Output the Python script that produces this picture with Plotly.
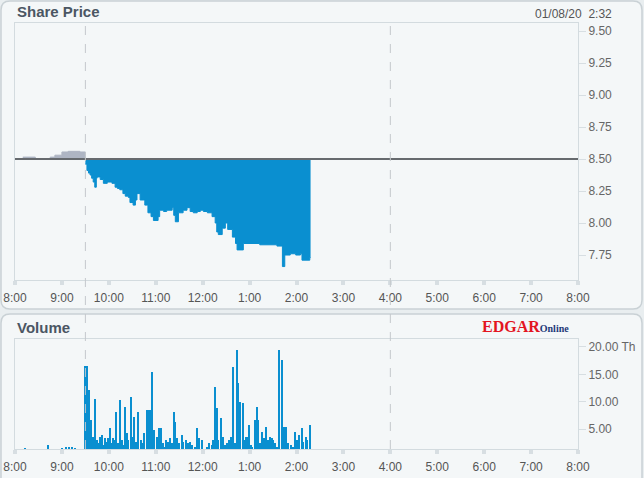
import pandas as pd
import plotly.graph_objects as go

W, H = 644, 478
DAY = "2020-01-08 "

# previous close (reference line)
prev_close = 8.50

# pre-market trades (grey, above previous close)
pre_times = ["08:10", "08:26", "08:45", "08:51", "09:00", "09:08", "09:23", "09:30"]
pre_prices = [8.515, 8.50, 8.515, 8.53, 8.555, 8.56, 8.555, 8.50]

# regular session
reg_times = ["09:30", "09:32", "09:34", "09:36", "09:38", "09:40", "09:42", "09:44", "09:45",
             "09:49", "09:53", "09:58", "10:04", "10:08", "10:11", "10:14", "10:18", "10:21",
             "10:25", "10:27", "10:31", "10:34", "10:36", "10:40", "10:46", "10:50", "10:54",
             "10:57", "11:03", "11:05", "11:10", "11:14", "11:21", "11:23", "11:25", "11:29",
             "11:35", "11:40", "11:44", "11:48", "11:53", "11:57", "12:01", "12:06", "12:12",
             "12:16", "12:18", "12:20", "12:25", "12:29", "12:32", "12:38", "12:42", "12:44",
             "12:52", "13:13", "13:35", "13:42", "13:45", "13:52", "13:59", "14:05", "14:07",
             "14:17", "14:18"]
reg_prices = [8.46, 8.41, 8.39, 8.375, 8.35, 8.32, 8.28, 8.35, 8.36,
              8.34, 8.31, 8.32, 8.31, 8.28, 8.27, 8.26, 8.23, 8.21,
              8.20, 8.16, 8.14, 8.18, 8.23, 8.18, 8.14, 8.08, 8.05,
              8.02, 8.05, 8.10, 8.09, 8.10, 8.12, 8.06, 8.01, 8.08,
              8.10, 8.12, 8.09, 8.08, 8.09, 8.10, 8.09, 8.08, 8.05,
              8.00, 7.93, 7.91, 7.96, 8.00, 7.95, 7.89, 7.84, 7.79,
              7.84, 7.83, 7.82, 7.66, 7.75, 7.76, 7.75, 7.76, 7.71,
              7.73, 7.73]

# volume (thousands)
vol_times = ["08:13", "08:42", "09:01", "09:05", "09:09", "09:13", "09:17",
             "09:30", "09:31", "09:32", "09:33", "09:35", "09:37", "09:38", "09:40", "09:42",
             "09:45", "09:46", "09:49", "09:51", "09:53", "09:55", "09:58", "09:59", "10:02",
             "10:04", "10:05", "10:08", "10:10", "10:12", "10:14", "10:17", "10:18", "10:21",
             "10:23", "10:25", "10:28", "10:31", "10:32", "10:35", "10:37", "10:41", "10:44",
             "10:45", "10:49", "10:50", "10:51", "10:52", "10:53", "10:56", "10:58", "11:02",
             "11:04", "11:05", "11:07", "11:09", "11:12", "11:14", "11:16", "11:18", "11:21",
             "11:23", "11:25", "11:27", "11:30", "11:34", "11:35", "11:39", "11:41", "11:44",
             "11:46", "11:50", "11:53", "11:55", "11:59", "12:06", "12:08", "12:12", "12:13",
             "12:16", "12:18", "12:20", "12:24", "12:26", "12:29", "12:31", "12:34", "12:36",
             "12:39", "12:41", "12:44", "12:45", "12:48", "12:52", "12:53", "12:56", "12:57",
             "12:59", "13:02", "13:04", "13:07", "13:10", "13:11", "13:13", "13:16", "13:19",
             "13:21", "13:24", "13:26", "13:29", "13:30", "13:33", "13:35", "13:38", "13:42",
             "13:43", "13:44", "13:45", "13:46", "13:47", "13:49", "13:53", "13:56", "13:58",
             "14:01", "14:03", "14:07", "14:08", "14:12", "14:14", "14:17"]
vol_values = [1.6, 2.1, 1.6, 1.7, 1.7, 1.7, 1.6,
              16.5, 16.5, 16.5, 8.1, 12.1, 6.7, 5.2, 3.5, 10.5,
              3.0, 2.4, 3.5, 3.9, 2.1, 3.4, 2.6, 3.4, 5.2,
              2.4, 3.4, 3.0, 8.1, 2.4, 10.3, 3.0, 2.1, 9.0,
              4.3, 3.0, 10.9, 3.5, 7.2, 2.6, 8.1, 3.0, 2.4,
              4.3, 8.5, 8.5, 8.5, 8.5, 8.5, 15.4, 4.8, 3.5,
              2.6, 5.2, 5.2, 2.4, 1.7, 3.0, 2.6, 3.4, 2.4,
              8.1, 6.3, 3.4, 2.4, 3.9, 2.6, 3.0, 2.4, 2.6,
              2.1, 1.7, 5.2, 3.4, 3.0, 1.7, 2.4, 2.1, 3.0,
              12.7, 8.8, 3.0, 7.0, 3.5, 2.1, 2.4, 3.0, 3.5,
              16.3, 2.4, 19.4, 13.4, 9.9, 9.8, 3.0, 3.5, 3.5,
              5.7, 2.1, 1.7, 6.7, 9.0, 6.7, 2.4, 4.5, 3.4,
              5.4, 3.0, 3.5, 3.4, 3.0, 2.4, 1.7, 19.4, 17.6,
              5.4, 5.4, 5.4, 5.4, 5.4, 2.4, 2.1, 1.7, 4.5,
              3.0, 3.9, 5.2, 2.6, 3.5, 3.0, 5.7]

hour_ticks = ["08:00", "09:00", "10:00", "11:00", "12:00", "13:00", "14:00",
              "15:00", "16:00", "17:00", "18:00", "19:00", "20:00"]
hour_labels = ["8:00", "9:00", "10:00", "11:00", "12:00", "1:00", "2:00",
               "3:00", "4:00", "5:00", "6:00", "7:00", "8:00"]
price_ticks = [7.75, 8.00, 8.25, 8.50, 8.75, 9.00, 9.25, 9.50]
vol_ticks = [5, 10, 15, 20]
vol_labels = ["5.00", "10.00", "15.00", "20.00 Th"]
dashed_times = ["09:30", "16:00"]


def ts(times):
    return pd.to_datetime([DAY + t for t in times])


def px(x):
    return x / W


def py(y):
    return 1 - y / H


def round_rect(x0, y0, x1, y1, r):
    # rounded rectangle path in paper coords, pixel inputs
    rx, ry = r / W, r / H
    a, b, c, d = px(x0), py(y1), px(x1), py(y0)
    return (f"M{a+rx},{d} L{c-rx},{d} Q{c},{d} {c},{d-ry} L{c},{b+ry} Q{c},{b} {c-rx},{b} "
            f"L{a+rx},{b} Q{a},{b} {a},{b+ry} L{a},{d-ry} Q{a},{d} {a+rx},{d} Z")


BLUE = "#0a8fd0"
GREY_FILL = "#aeb5c3"
FONT = "Liberation Sans"

fig = go.Figure()

# pre-market grey area
fig.add_trace(go.Scatter(x=ts(pre_times), y=[prev_close] * len(pre_times), mode="lines",
                         line=dict(width=0, shape="hv"), hoverinfo="skip", showlegend=False))
fig.add_trace(go.Scatter(x=ts(pre_times), y=pre_prices, mode="lines", fill="tonexty",
                         fillcolor=GREY_FILL, line=dict(color=GREY_FILL, width=1, shape="hv"),
                         showlegend=False))

# regular session blue area
fig.add_trace(go.Scatter(x=ts(reg_times), y=[prev_close] * len(reg_times), mode="lines",
                         line=dict(width=0, shape="hv"), hoverinfo="skip", showlegend=False))
fig.add_trace(go.Scatter(x=ts(reg_times), y=reg_prices, mode="lines", fill="tonexty",
                         fillcolor=BLUE, line=dict(color=BLUE, width=1, shape="hv"),
                         showlegend=False))

# previous close line
fig.add_trace(go.Scatter(x=ts(["08:00", "20:00"]), y=[prev_close, prev_close], mode="lines",
                         line=dict(color="#666a6e", width=2.2), showlegend=False))

# volume bars
fig.add_trace(go.Bar(x=ts(vol_times), y=vol_values, marker=dict(color=BLUE, line_width=0),
                     width=110000, xaxis="x2", yaxis="y2", showlegend=False))

x_dom = [px(15), px(578)]
axis_common = dict(showline=True, mirror=True, linecolor="#d3dbdf", linewidth=1,
                   showgrid=False, zeroline=False, automargin=False)
x_common = dict(axis_common, type="date", domain=x_dom,
                range=[pd.Timestamp(DAY + "08:00"), pd.Timestamp(DAY + "20:00")],
                tickvals=ts(hour_ticks), ticktext=hour_labels,
                ticks="outside", ticklen=4, tickwidth=4, tickcolor="#d7dee2",
                tickfont=dict(family=FONT, size=12, color="#555"), ticklabelstandoff=3)
y_common = dict(axis_common, side="right", ticks="outside", ticklen=7, tickcolor="#d7dee2",
                tickfont=dict(family=FONT, size=12, color="#666"))

fig.update_layout(
    width=W, height=H, autosize=False,
    margin=dict(l=0, r=0, t=0, b=0),
    paper_bgcolor="#e9eef0",
    plot_bgcolor="white",
    bargap=0,
    xaxis=dict(x_common, anchor="y"),
    yaxis=dict(y_common, domain=[py(280), py(23)], range=[7.555, 9.5625],
               tickvals=price_ticks, tickformat=".2f", anchor="x"),
    xaxis2=dict(x_common, anchor="y2", matches="x"),
    yaxis2=dict(y_common, domain=[py(449), py(339)], range=[1.35, 21.46],
                tickvals=vol_ticks, ticktext=vol_labels, anchor="x2"),
)

shapes = [
    dict(type="path", xref="paper", yref="paper", path=round_rect(1, 1, 642, 309, 9),
         fillcolor="#f4f7f8", line=dict(color="#c9d1d5", width=1.5), layer="below"),
    dict(type="path", xref="paper", yref="paper", path=round_rect(1, 314, 642, 500, 9),
         fillcolor="#f4f7f8", line=dict(color="#c9d1d5", width=1.5), layer="below"),
]
for t in dashed_times:
    shapes.append(dict(type="line", xref="x", yref="paper", x0=DAY + t, x1=DAY + t,
                       y0=py(449), y1=py(23), layer="above",
                       line=dict(color="#c4c8cc", width=1, dash="dash")))
fig.update_layout(shapes=shapes)

fig.add_annotation(text="<b>Share Price</b>", xref="paper", yref="paper", x=px(15), y=py(12),
                   xanchor="left", yanchor="middle", showarrow=False,
                   font=dict(family=FONT, size=15, color="#4b5663"))
fig.add_annotation(text="<b>Volume</b>", xref="paper", yref="paper", x=px(15), y=py(327),
                   xanchor="left", yanchor="middle", showarrow=False,
                   font=dict(family=FONT, size=15, color="#4b5663"))
fig.add_annotation(text="01/08/20  2:32", xref="paper", yref="paper", x=px(614), y=py(14),
                   xanchor="right", yanchor="middle", showarrow=False,
                   font=dict(family=FONT, size=12, color="#555"))
fig.add_annotation(text="<b><span style='color:#e3151f'>EDGAR</span>"
                        "<span style='color:#1e3a78;font-size:10px'>Online</span></b>",
                   xref="paper", yref="paper", x=px(480), y=py(326),
                   xanchor="left", yanchor="middle", showarrow=False,
                   font=dict(family="Liberation Serif", size=16))

# drop the browser's default page margin so the figure sits at the window origin
fig.write_html("out.html", config={"displayModeBar": False},
               post_script="document.body.style.margin='0';")
